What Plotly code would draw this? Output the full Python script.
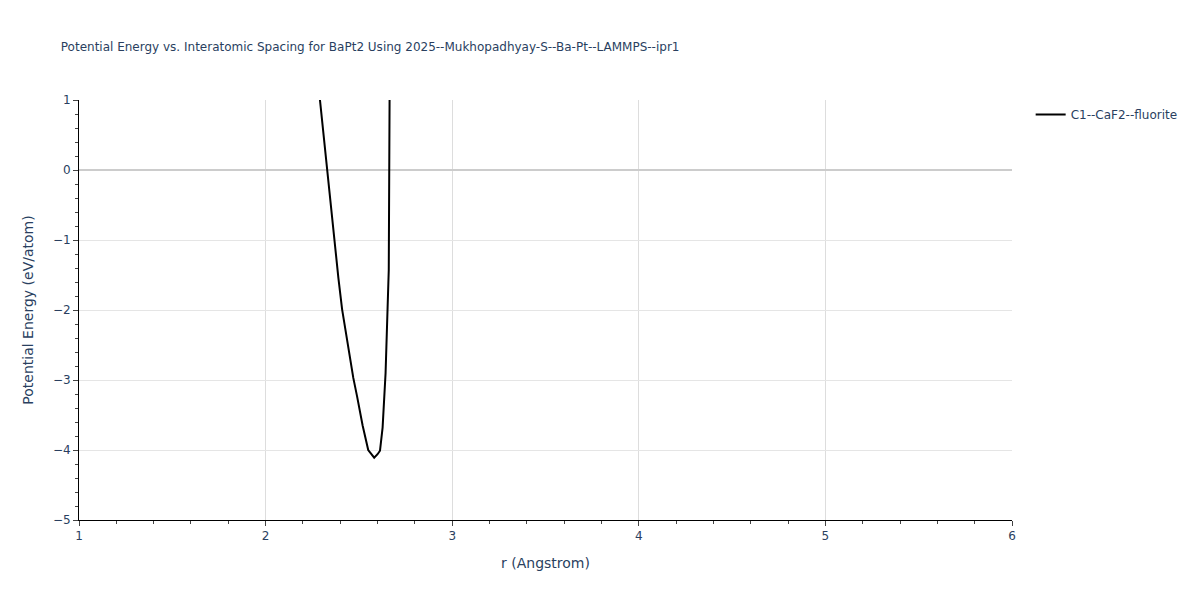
import plotly.graph_objects as go

# interatomic spacing (Angstrom) and energy (eV/atom)
r_vals = [2.27, 2.30, 2.33, 2.35, 2.37, 2.39, 2.41, 2.43, 2.45, 2.47, 2.49, 2.52,
          2.55, 2.568, 2.582, 2.600, 2.613, 2.627, 2.643, 2.660, 2.668]
energy = [1.55, 0.76, -0.02, -0.55, -1.05, -1.54, -1.99, -2.34, -2.66, -2.97, -3.23,
          -3.65, -4.00, -4.07, -4.11, -4.06, -4.01, -3.68, -2.90, -1.43, 3.0]
series_name = "C1--CaF2--fluorite"

fig = go.Figure(
    go.Scatter(x=r_vals, y=energy, mode="lines", name=series_name,
               line=dict(color="black", width=2))
)

fig.update_layout(
    title=dict(text="Potential Energy vs. Interatomic Spacing for BaPt2 Using "
                    "2025--Mukhopadhyay-S--Ba-Pt--LAMMPS--ipr1",
               font=dict(size=12), x=0.044, y=0.943),
    width=1200,
    height=600,
    template="plotly_white",
    showlegend=True,
    legend=dict(x=1.02, y=1, font=dict(size=12)),
    margin=dict(l=71, r=196, t=92, b=88),
    font=dict(family="Verdana, DejaVu Sans, sans-serif", color="#2a3f5f", size=12),
    xaxis=dict(title=dict(text="r (Angstrom)", font=dict(size=14)), range=[1, 6],
               dtick=1, showline=True, linecolor="black", ticks="outside",
               minor=dict(ticks="outside", dtick=0.2, ticklen=3),
               gridcolor="#dddddd", zeroline=False),
    yaxis=dict(title=dict(text="Potential Energy (eV/atom)", font=dict(size=14)),
               range=[-5, 1], dtick=1, showline=True, linecolor="black",
               ticks="outside", minor=dict(ticks="outside", dtick=0.2, ticklen=3),
               gridcolor="#e5e5e5", zeroline=True, zerolinecolor="#cccccc",
               zerolinewidth=2),
)

fig.write_html("out.html")
